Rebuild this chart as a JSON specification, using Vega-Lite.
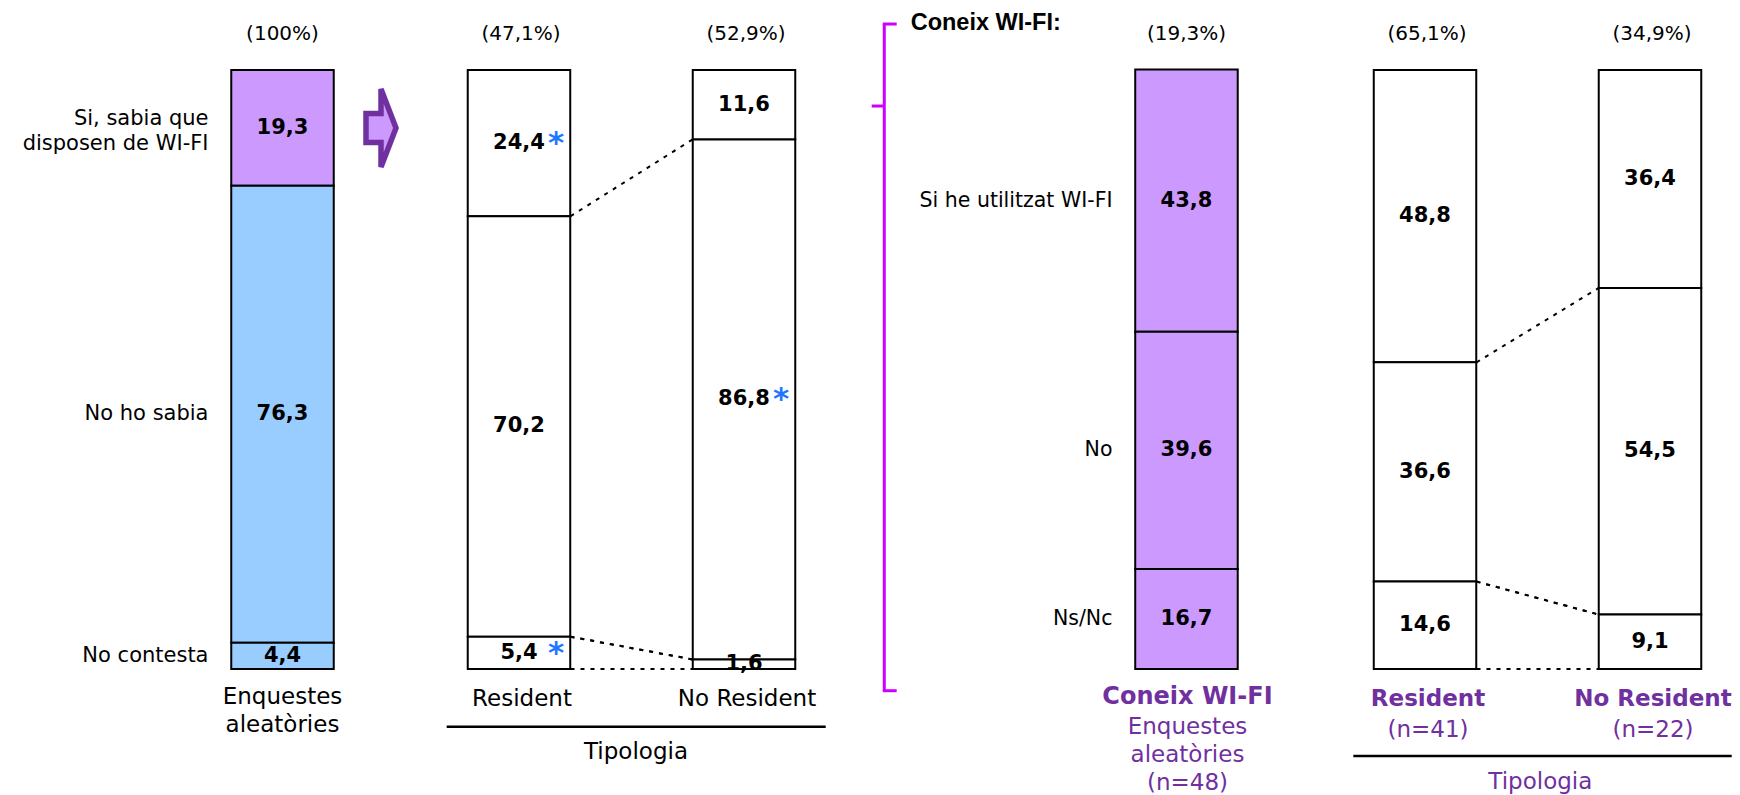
{
  "$schema": "https://vega.github.io/schema/vega-lite/v6.json",
  "padding": 0,
  "spacing": 0,
  "bounds": "flush",
  "background": "white",
  "config": {"view": {"stroke": null}, "axis": {"disable": true}},
  "datasets": {
    "bars": [
      {"grp": "A", "bar": "Enquestes", "cat": "a", "value": 19.3, "sig": false, "label": "Si, sabia que\ndisposen de WI-FI"},
      {"grp": "A", "bar": "Enquestes", "cat": "b", "value": 76.3, "sig": false, "label": "No ho sabia"},
      {"grp": "A", "bar": "Enquestes", "cat": "c", "value": 4.4, "sig": false, "label": "No contesta"},
      {"grp": "B", "bar": "Resident", "cat": "a", "value": 24.4, "sig": true},
      {"grp": "B", "bar": "Resident", "cat": "b", "value": 70.2, "sig": false},
      {"grp": "B", "bar": "Resident", "cat": "c", "value": 5.4, "sig": true},
      {"grp": "B", "bar": "No Resident", "cat": "a", "value": 11.6, "sig": false},
      {"grp": "B", "bar": "No Resident", "cat": "b", "value": 86.8, "sig": true},
      {"grp": "B", "bar": "No Resident", "cat": "c", "value": 1.6, "sig": false},
      {"grp": "C", "bar": "Coneix", "cat": "a", "value": 43.8, "sig": false, "label": "Si he utilitzat WI-FI"},
      {"grp": "C", "bar": "Coneix", "cat": "b", "value": 39.6, "sig": false, "label": "No"},
      {"grp": "C", "bar": "Coneix", "cat": "c", "value": 16.7, "sig": false, "label": "Ns/Nc"},
      {"grp": "D", "bar": "Resident", "cat": "a", "value": 48.8, "sig": false},
      {"grp": "D", "bar": "Resident", "cat": "b", "value": 36.6, "sig": false},
      {"grp": "D", "bar": "Resident", "cat": "c", "value": 14.6, "sig": false},
      {"grp": "D", "bar": "No Resident", "cat": "a", "value": 36.4, "sig": false},
      {"grp": "D", "bar": "No Resident", "cat": "b", "value": 54.5, "sig": false},
      {"grp": "D", "bar": "No Resident", "cat": "c", "value": 9.1, "sig": false}
    ],
    "info": [
      {"grp": "A", "bar": "Enquestes", "pct": 100, "name": "Enquestes\naleatòries"},
      {"grp": "B", "bar": "Resident", "pct": 47.1, "name": "Resident"},
      {"grp": "B", "bar": "No Resident", "pct": 52.9, "name": "No Resident"},
      {"grp": "C", "bar": "Coneix", "pct": 19.3, "name": "Coneix WI-FI", "sub": "Enquestes\naleatòries", "n": 48},
      {"grp": "D", "bar": "Resident", "pct": 65.1, "name": "Resident", "n": 41},
      {"grp": "D", "bar": "No Resident", "pct": 34.9, "name": "No Resident", "n": 22}
    ]
  },
  "hconcat": [
    {
      "width": 400, "height": 795,
      "layer": [
        {
          "data": {"name": "bars"},
          "transform": [
            {"filter": "datum.grp === 'A'"},
            {"stack": "value", "groupby": ["bar"], "sort": [{"field": "cat", "order": "descending"}], "as": ["y0", "y1"]}
          ],
          "mark": {"type": "bar", "width": 102.5, "stroke": "black", "strokeWidth": 2},
          "encoding": {
            "x": {"field": "bar", "type": "nominal", "scale": {"type": "point", "domain": ["Enquestes"], "padding": 0, "align": 0.70625, "round": false}, "axis": null},
            "y": {"field": "y0", "type": "quantitative", "scale": {"domain": [-21.03, 111.69], "nice": false, "zero": false}, "axis": null},
            "y2": {"field": "y1"},
            "fill": {"field": "cat", "type": "nominal", "scale": {"domain": ["a", "b", "c"], "range": ["#cc99ff", "#99ccff", "#99ccff"]}, "legend": null}
          }
        },
        {
          "data": {"name": "bars"},
          "transform": [
            {"filter": "datum.grp === 'A'"},
            {"stack": "value", "groupby": ["bar"], "sort": [{"field": "cat", "order": "descending"}], "as": ["y0", "y1"]},
            {"calculate": "(datum.y0 + datum.y1) / 2", "as": "mid"},
            {"calculate": "replace(format(datum.value, '.1f'), '.', ',')", "as": "txt"}
          ],
          "mark": {"type": "text", "font": "DejaVu Sans", "fontSize": 21, "fontWeight": "bold", "baseline": "middle", "color": "black"},
          "encoding": {
            "x": {"field": "bar", "type": "nominal", "axis": null},
            "y": {"field": "mid", "type": "quantitative", "axis": null},
            "text": {"field": "txt"}
          }
        },
        {
          "data": {"name": "bars"},
          "transform": [
            {"filter": "datum.grp === 'A'"},
            {"stack": "value", "groupby": ["bar"], "sort": [{"field": "cat", "order": "descending"}], "as": ["y0", "y1"]},
            {"calculate": "(datum.y0 + datum.y1) / 2", "as": "mid"},
            {"filter": "indexof(datum.label, '\\n') < 0"}
          ],
          "mark": {"type": "text", "font": "DejaVu Sans", "fontSize": 21, "align": "right", "baseline": "middle", "dx": -74, "color": "black"},
          "encoding": {
            "x": {"field": "bar", "type": "nominal", "axis": null},
            "y": {"field": "mid", "type": "quantitative", "axis": null},
            "text": {"field": "label"}
          }
        },
        {
          "data": {"name": "bars"},
          "transform": [
            {"filter": "datum.grp === 'A'"},
            {"stack": "value", "groupby": ["bar"], "sort": [{"field": "cat", "order": "descending"}], "as": ["y0", "y1"]},
            {"calculate": "(datum.y0 + datum.y1) / 2", "as": "mid"},
            {"filter": "indexof(datum.label, '\\n') >= 0"}
          ],
          "mark": {"type": "text", "font": "DejaVu Sans", "fontSize": 21, "align": "right", "baseline": "middle", "dx": -74, "dy": -9, "lineBreak": "\n", "lineHeight": 25, "color": "black"},
          "encoding": {
            "x": {"field": "bar", "type": "nominal", "axis": null},
            "y": {"field": "mid", "type": "quantitative", "axis": null},
            "text": {"field": "label"}
          }
        },
        {
          "data": {"name": "info"},
          "transform": [
            {"filter": "datum.grp === 'A'"},
            {"calculate": "'(' + replace(format(datum.pct, datum.pct === 100 ? 'd' : '.1f'), '.', ',') + '%)'", "as": "ptxt"}
          ],
          "mark": {"type": "text", "font": "DejaVu Sans", "fontSize": 20, "baseline": "middle", "color": "black"},
          "encoding": {
            "x": {"field": "bar", "type": "nominal", "axis": null},
            "y": {"datum": 106, "type": "quantitative"},
            "text": {"field": "ptxt"}
          }
        },
        {
          "data": {"name": "info"},
          "transform": [{"filter": "datum.grp === 'A'"}],
          "mark": {"type": "text", "font": "DejaVu Sans", "fontSize": 23, "baseline": "middle", "lineBreak": "\n", "lineHeight": 27.7, "color": "black"},
          "encoding": {
            "x": {"field": "bar", "type": "nominal", "axis": null},
            "y": {"datum": -4.72, "type": "quantitative"},
            "text": {"field": "name"}
          }
        },
        {
          "data": {"name": "info"},
          "transform": [{"filter": "datum.grp === 'A'"}],
          "mark": {"type": "point", "shape": "M-0.385,-0.37L0,-0.37L0,-1L0.385,0L0,1L0,0.37L-0.385,0.37Z", "size": 6084, "filled": true, "fill": "#cc99ff", "stroke": "#7030a0", "strokeWidth": 5.5, "opacity": 1, "strokeJoin": "miter", "xOffset": 98.5},
          "encoding": {
            "x": {"field": "bar", "type": "nominal", "axis": null},
            "y": {"datum": 90.32, "type": "quantitative"}
          }
        }
      ]
    },
    {
      "width": 470, "height": 795,
      "layer": [
        {
          "data": {"name": "bars"},
          "transform": [
            {"filter": "datum.grp === 'B'"},
            {"stack": "value", "groupby": ["bar"], "sort": [{"field": "cat", "order": "descending"}], "as": ["y0", "y1"]},
            {"filter": "datum.cat !== 'a'"},
            {"fold": ["y0", "y1"], "as": ["k", "v"]},
            {"pivot": "bar", "value": "v", "groupby": ["cat", "k"]}
          ],
          "mark": {"type": "rule", "strokeDash": [4, 6], "strokeWidth": 2, "color": "black", "xOffset": 51.5, "x2Offset": -51.5},
          "encoding": {
            "x": {"datum": "Resident", "type": "nominal", "scale": {"type": "point", "domain": ["Resident", "No Resident"], "padding": 0.5444, "align": 0.4857, "round": false}, "axis": null},
            "x2": {"datum": "No Resident"},
            "y": {"field": "Resident", "type": "quantitative", "scale": {"domain": [-21.03, 111.69], "nice": false, "zero": false}, "axis": null},
            "y2": {"field": "No Resident"}
          }
        },
        {
          "data": {"name": "bars"},
          "transform": [
            {"filter": "datum.grp === 'B'"},
            {"stack": "value", "groupby": ["bar"], "sort": [{"field": "cat", "order": "descending"}], "as": ["y0", "y1"]}
          ],
          "mark": {"type": "bar", "width": 102.5, "stroke": "black", "strokeWidth": 2, "fill": "white"},
          "encoding": {
            "x": {"field": "bar", "type": "nominal", "axis": null},
            "y": {"field": "y0", "type": "quantitative", "axis": null},
            "y2": {"field": "y1"}
          }
        },
        {
          "data": {"name": "bars"},
          "transform": [
            {"filter": "datum.grp === 'B'"},
            {"stack": "value", "groupby": ["bar"], "sort": [{"field": "cat", "order": "descending"}], "as": ["y0", "y1"]},
            {"calculate": "(datum.y0 + datum.y1) / 2", "as": "mid"},
            {"calculate": "replace(format(datum.value, '.1f'), '.', ',')", "as": "txt"}
          ],
          "mark": {"type": "text", "font": "DejaVu Sans", "fontSize": 21, "fontWeight": "bold", "baseline": "middle", "color": "black"},
          "encoding": {
            "x": {"field": "bar", "type": "nominal", "axis": null},
            "y": {"field": "mid", "type": "quantitative", "axis": null},
            "text": {"field": "txt"}
          }
        },
        {
          "data": {"name": "bars"},
          "transform": [
            {"filter": "datum.grp === 'B'"},
            {"stack": "value", "groupby": ["bar"], "sort": [{"field": "cat", "order": "descending"}], "as": ["y0", "y1"]},
            {"filter": "datum.sig"},
            {"calculate": "(datum.y0 + datum.y1) / 2", "as": "mid"}
          ],
          "mark": {"type": "text", "font": "DejaVu Sans", "fontSize": 31, "fontWeight": "bold", "baseline": "middle", "color": "#1e78ff", "dx": 37, "dy": 1},
          "encoding": {
            "x": {"field": "bar", "type": "nominal", "axis": null},
            "y": {"field": "mid", "type": "quantitative", "axis": null},
            "text": {"value": "*"}
          }
        },
        {
          "data": {"name": "info"},
          "transform": [
            {"filter": "datum.grp === 'B'"},
            {"calculate": "'(' + replace(format(datum.pct, datum.pct === 100 ? 'd' : '.1f'), '.', ',') + '%)'", "as": "ptxt"}
          ],
          "mark": {"type": "text", "font": "DejaVu Sans", "fontSize": 20, "baseline": "middle", "color": "black", "dx": 2},
          "encoding": {
            "x": {"field": "bar", "type": "nominal", "axis": null},
            "y": {"datum": 106, "type": "quantitative"},
            "text": {"field": "ptxt"}
          }
        },
        {
          "data": {"name": "info"},
          "transform": [{"filter": "datum.grp === 'B'"}],
          "mark": {"type": "text", "font": "DejaVu Sans", "fontSize": 23, "baseline": "middle", "color": "black", "dx": 3},
          "encoding": {
            "x": {"field": "bar", "type": "nominal", "axis": null},
            "y": {"datum": -5.06, "type": "quantitative"},
            "text": {"field": "name"}
          }
        },
        {
          "data": {"name": "info"},
          "transform": [{"filter": "datum.grp === 'B' && datum.bar === 'Resident'"}],
          "mark": {"type": "rule", "strokeWidth": 2.5, "color": "black", "xOffset": -72.3, "x2Offset": 81.7},
          "encoding": {
            "x": {"datum": "Resident", "type": "nominal"},
            "x2": {"datum": "No Resident"},
            "y": {"datum": -9.63, "type": "quantitative"}
          }
        },
        {
          "data": {"name": "info"},
          "transform": [{"filter": "datum.grp === 'B' && datum.bar === 'Resident'"}],
          "mark": {"type": "text", "font": "DejaVu Sans", "fontSize": 23, "baseline": "middle", "color": "black", "dx": 117},
          "encoding": {
            "x": {"datum": "Resident", "type": "nominal"},
            "y": {"datum": -13.81, "type": "quantitative"},
            "text": {"value": "Tipologia"}
          }
        }
      ]
    },
    {
      "width": 430, "height": 795,
      "layer": [
        {
          "data": {"name": "bars"},
          "transform": [
            {"filter": "datum.grp === 'C'"},
            {"stack": "value", "groupby": ["bar"], "sort": [{"field": "cat", "order": "descending"}], "as": ["y0", "y1"]}
          ],
          "mark": {"type": "bar", "width": 102.5, "stroke": "black", "strokeWidth": 2, "fill": "#cc99ff"},
          "encoding": {
            "x": {"field": "bar", "type": "nominal", "scale": {"type": "point", "domain": ["Coneix"], "padding": 0, "align": 0.736, "round": false}, "axis": null},
            "y": {"field": "y0", "type": "quantitative", "scale": {"domain": [-21.03, 111.69], "nice": false, "zero": false}, "axis": null},
            "y2": {"field": "y1"}
          }
        },
        {
          "data": {"name": "bars"},
          "transform": [
            {"filter": "datum.grp === 'C'"},
            {"stack": "value", "groupby": ["bar"], "sort": [{"field": "cat", "order": "descending"}], "as": ["y0", "y1"]},
            {"calculate": "(datum.y0 + datum.y1) / 2", "as": "mid"},
            {"calculate": "replace(format(datum.value, '.1f'), '.', ',')", "as": "txt"}
          ],
          "mark": {"type": "text", "font": "DejaVu Sans", "fontSize": 21, "fontWeight": "bold", "baseline": "middle", "color": "black"},
          "encoding": {
            "x": {"field": "bar", "type": "nominal", "axis": null},
            "y": {"field": "mid", "type": "quantitative", "axis": null},
            "text": {"field": "txt"}
          }
        },
        {
          "data": {"name": "bars"},
          "transform": [
            {"filter": "datum.grp === 'C'"},
            {"stack": "value", "groupby": ["bar"], "sort": [{"field": "cat", "order": "descending"}], "as": ["y0", "y1"]},
            {"calculate": "(datum.y0 + datum.y1) / 2", "as": "mid"}
          ],
          "mark": {"type": "text", "font": "DejaVu Sans", "fontSize": 20.5, "align": "right", "baseline": "middle", "dx": -74, "color": "black"},
          "encoding": {
            "x": {"field": "bar", "type": "nominal", "axis": null},
            "y": {"field": "mid", "type": "quantitative", "axis": null},
            "text": {"field": "label"}
          }
        },
        {
          "data": {"name": "info"},
          "transform": [
            {"filter": "datum.grp === 'C'"},
            {"calculate": "'(' + replace(format(datum.pct, datum.pct === 100 ? 'd' : '.1f'), '.', ',') + '%)'", "as": "ptxt"}
          ],
          "mark": {"type": "text", "font": "DejaVu Sans", "fontSize": 20, "baseline": "middle", "color": "black"},
          "encoding": {
            "x": {"field": "bar", "type": "nominal", "axis": null},
            "y": {"datum": 106, "type": "quantitative"},
            "text": {"field": "ptxt"}
          }
        },
        {
          "data": {"name": "info"},
          "transform": [{"filter": "datum.grp === 'C'"}],
          "mark": {"type": "text", "font": "Liberation Sans", "fontSize": 23.5, "fontWeight": "bold", "align": "left", "baseline": "middle", "color": "black", "dx": -275.8},
          "encoding": {
            "x": {"field": "bar", "type": "nominal", "axis": null},
            "y": {"datum": 107.8, "type": "quantitative"},
            "text": {"value": "Coneix WI-FI:"}
          }
        },
        {
          "data": {"name": "info"},
          "transform": [{"filter": "datum.grp === 'C'"}],
          "mark": {"type": "rule", "strokeWidth": 3, "color": "#cc00ff", "xOffset": -302.2},
          "encoding": {
            "x": {"field": "bar", "type": "nominal", "axis": null},
            "y": {"datum": 107.68, "type": "quantitative"},
            "y2": {"datum": -3.62}
          }
        },
        {
          "data": {"name": "info"},
          "transform": [{"filter": "datum.grp === 'C'"}],
          "mark": {"type": "rule", "strokeWidth": 3, "color": "#cc00ff", "xOffset": -303.7, "x2Offset": -289.8},
          "encoding": {
            "x": {"field": "bar", "type": "nominal", "axis": null},
            "x2": {"field": "bar"},
            "y": {"datum": 107.68, "type": "quantitative"}
          }
        },
        {
          "data": {"name": "info"},
          "transform": [{"filter": "datum.grp === 'C'"}],
          "mark": {"type": "rule", "strokeWidth": 3, "color": "#cc00ff", "xOffset": -303.7, "x2Offset": -289.8},
          "encoding": {
            "x": {"field": "bar", "type": "nominal", "axis": null},
            "x2": {"field": "bar"},
            "y": {"datum": -3.62, "type": "quantitative"}
          }
        },
        {
          "data": {"name": "info"},
          "transform": [{"filter": "datum.grp === 'C'"}],
          "mark": {"type": "rule", "strokeWidth": 3, "color": "#cc00ff", "xOffset": -314.8, "x2Offset": -302.2},
          "encoding": {
            "x": {"field": "bar", "type": "nominal", "axis": null},
            "x2": {"field": "bar"},
            "y": {"datum": 93.99, "type": "quantitative"}
          }
        },
        {
          "data": {"name": "info"},
          "transform": [{"filter": "datum.grp === 'C'"}],
          "mark": {"type": "text", "font": "DejaVu Sans", "fontSize": 24, "fontWeight": "bold", "baseline": "middle", "color": "#7030a0", "dx": 1},
          "encoding": {
            "x": {"field": "bar", "type": "nominal", "axis": null},
            "y": {"datum": -4.72, "type": "quantitative"},
            "text": {"field": "name"}
          }
        },
        {
          "data": {"name": "info"},
          "transform": [
            {"filter": "datum.grp === 'C'"},
            {"calculate": "datum.sub + '\\n(n=' + datum.n + ')'", "as": "stxt"}
          ],
          "mark": {"type": "text", "font": "DejaVu Sans", "fontSize": 23, "baseline": "middle", "lineBreak": "\n", "lineHeight": 28.3, "color": "#7030a0", "dx": 1},
          "encoding": {
            "x": {"field": "bar", "type": "nominal", "axis": null},
            "y": {"datum": -9.63, "type": "quantitative"},
            "text": {"field": "stxt"}
          }
        }
      ]
    },
    {
      "width": 440, "height": 795,
      "layer": [
        {
          "data": {"name": "bars"},
          "transform": [
            {"filter": "datum.grp === 'D'"},
            {"stack": "value", "groupby": ["bar"], "sort": [{"field": "cat", "order": "descending"}], "as": ["y0", "y1"]},
            {"filter": "datum.cat !== 'a'"},
            {"fold": ["y0", "y1"], "as": ["k", "v"]},
            {"pivot": "bar", "value": "v", "groupby": ["cat", "k"]}
          ],
          "mark": {"type": "rule", "strokeDash": [4, 6], "strokeWidth": 2, "color": "black", "xOffset": 51.5, "x2Offset": -51.5},
          "encoding": {
            "x": {"datum": "Resident", "type": "nominal", "scale": {"type": "point", "domain": ["Resident", "No Resident"], "padding": 0.4778, "align": 0.5814, "round": false}, "axis": null},
            "x2": {"datum": "No Resident"},
            "y": {"field": "Resident", "type": "quantitative", "scale": {"domain": [-21.03, 111.69], "nice": false, "zero": false}, "axis": null},
            "y2": {"field": "No Resident"}
          }
        },
        {
          "data": {"name": "bars"},
          "transform": [
            {"filter": "datum.grp === 'D'"},
            {"stack": "value", "groupby": ["bar"], "sort": [{"field": "cat", "order": "descending"}], "as": ["y0", "y1"]}
          ],
          "mark": {"type": "bar", "width": 102.5, "stroke": "black", "strokeWidth": 2, "fill": "white"},
          "encoding": {
            "x": {"field": "bar", "type": "nominal", "axis": null},
            "y": {"field": "y0", "type": "quantitative", "axis": null},
            "y2": {"field": "y1"}
          }
        },
        {
          "data": {"name": "bars"},
          "transform": [
            {"filter": "datum.grp === 'D'"},
            {"stack": "value", "groupby": ["bar"], "sort": [{"field": "cat", "order": "descending"}], "as": ["y0", "y1"]},
            {"calculate": "(datum.y0 + datum.y1) / 2", "as": "mid"},
            {"calculate": "replace(format(datum.value, '.1f'), '.', ',')", "as": "txt"}
          ],
          "mark": {"type": "text", "font": "DejaVu Sans", "fontSize": 21, "fontWeight": "bold", "baseline": "middle", "color": "black"},
          "encoding": {
            "x": {"field": "bar", "type": "nominal", "axis": null},
            "y": {"field": "mid", "type": "quantitative", "axis": null},
            "text": {"field": "txt"}
          }
        },
        {
          "data": {"name": "info"},
          "transform": [
            {"filter": "datum.grp === 'D'"},
            {"calculate": "'(' + replace(format(datum.pct, datum.pct === 100 ? 'd' : '.1f'), '.', ',') + '%)'", "as": "ptxt"}
          ],
          "mark": {"type": "text", "font": "DejaVu Sans", "fontSize": 20, "baseline": "middle", "color": "black", "dx": 2},
          "encoding": {
            "x": {"field": "bar", "type": "nominal", "axis": null},
            "y": {"datum": 106, "type": "quantitative"},
            "text": {"field": "ptxt"}
          }
        },
        {
          "data": {"name": "info"},
          "transform": [{"filter": "datum.grp === 'D'"}],
          "mark": {"type": "text", "font": "DejaVu Sans", "fontSize": 23, "fontWeight": "bold", "baseline": "middle", "color": "#7030a0", "dx": 3},
          "encoding": {
            "x": {"field": "bar", "type": "nominal", "axis": null},
            "y": {"datum": -5.06, "type": "quantitative"},
            "text": {"field": "name"}
          }
        },
        {
          "data": {"name": "info"},
          "transform": [
            {"filter": "datum.grp === 'D'"},
            {"calculate": "'(n=' + datum.n + ')'", "as": "ntxt"}
          ],
          "mark": {"type": "text", "font": "DejaVu Sans", "fontSize": 23, "baseline": "middle", "color": "#7030a0", "dx": 3},
          "encoding": {
            "x": {"field": "bar", "type": "nominal", "axis": null},
            "y": {"datum": -10.18, "type": "quantitative"},
            "text": {"field": "ntxt"}
          }
        },
        {
          "data": {"name": "info"},
          "transform": [{"filter": "datum.grp === 'D' && datum.bar === 'Resident'"}],
          "mark": {"type": "rule", "strokeWidth": 2.5, "color": "black", "xOffset": -71.7, "x2Offset": 81.7},
          "encoding": {
            "x": {"datum": "Resident", "type": "nominal"},
            "x2": {"datum": "No Resident"},
            "y": {"datum": -14.52, "type": "quantitative"}
          }
        },
        {
          "data": {"name": "info"},
          "transform": [{"filter": "datum.grp === 'D' && datum.bar === 'Resident'"}],
          "mark": {"type": "text", "font": "DejaVu Sans", "fontSize": 23, "baseline": "middle", "color": "#7030a0", "dx": 115.3},
          "encoding": {
            "x": {"datum": "Resident", "type": "nominal"},
            "y": {"datum": -18.81, "type": "quantitative"},
            "text": {"value": "Tipologia"}
          }
        }
      ]
    }
  ]
}
